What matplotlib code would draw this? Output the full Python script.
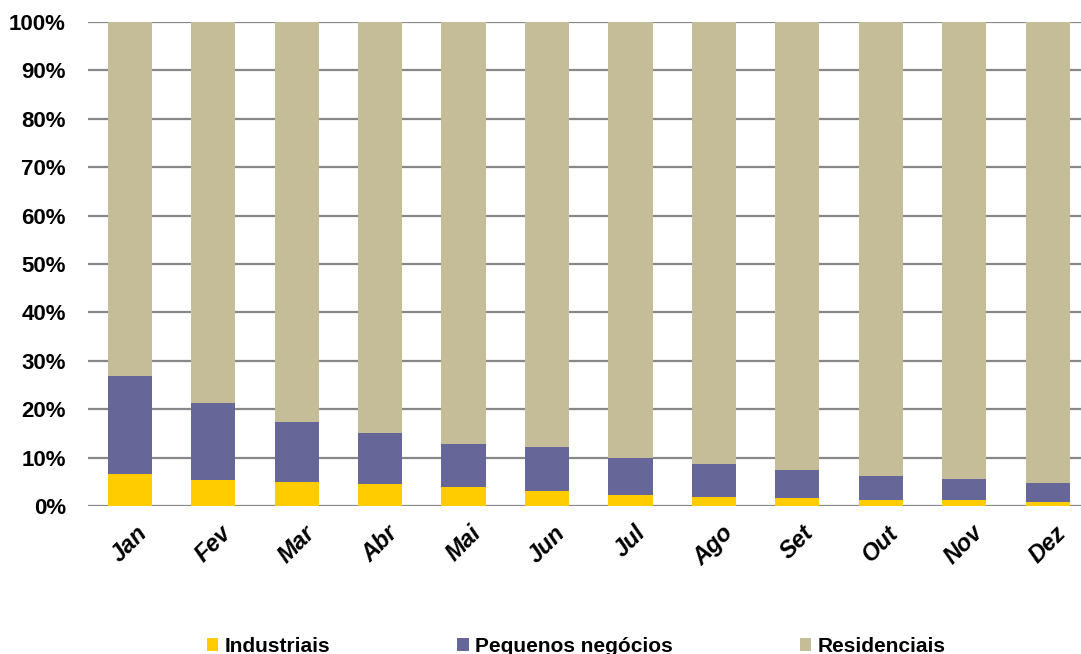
import matplotlib
matplotlib.use("Agg")
import matplotlib.pyplot as plt
from matplotlib.patches import Patch
import numpy as np

plt.rcParams['font.family'] = ['Liberation Sans', 'DejaVu Sans']

months = ["Jan", "Fev", "Mar", "Abr", "Mai", "Jun", "Jul", "Ago", "Set", "Out", "Nov", "Dez"]
industriais = [6.7, 5.3, 4.9, 4.6, 3.9, 3.1, 2.3, 1.9, 1.6, 1.2, 1.2, 0.8]
pequenos = [20.1, 16.0, 12.4, 10.5, 9.0, 9.0, 7.6, 6.7, 5.8, 5.1, 4.4, 4.0]
residenciais = [100 - a - b for a, b in zip(industriais, pequenos)]
yticks = [0, 10, 20, 30, 40, 50, 60, 70, 80, 90, 100]
ytick_labels = [f"{v}%" for v in yticks]

c_ind = "#FFCC00"
c_peq = "#666699"
c_res = "#C4BD97"

fig = plt.figure(figsize=(10.81, 6.54), dpi=100)
ax = fig.add_axes([88 / 1081, 1 - 506 / 654, (1081 - 88) / 1081, (506 - 22) / 654])

x = np.arange(len(months))
w = 0.53
ind = np.array(industriais)
peq = np.array(pequenos)
res = np.array(residenciais)
ax.bar(x, ind, w, color=c_ind, edgecolor="none", zorder=3)
ax.bar(x, peq, w, bottom=ind, color=c_peq, edgecolor="none", zorder=3)
ax.bar(x, res, w, bottom=ind + peq, color=c_res, edgecolor="none", zorder=3)

ax.set_xlim(-0.5, 11.4)
ax.set_ylim(0, 100)
ax.set_yticks(yticks)
ax.set_yticklabels(ytick_labels, fontsize=16, fontweight="bold")
ax.tick_params(axis="y", length=0, pad=16)
ax.set_xticks(x)
ax.set_xticklabels(months, fontsize=17, fontweight="bold", fontstyle="italic",
                   rotation=45, ha="center", va="top")
ax.tick_params(axis="x", length=0, pad=11)
for s in ax.spines.values():
    s.set_visible(False)
ax.yaxis.grid(True, color="#888888", linewidth=1.6, zorder=0)
ax.set_axisbelow(True)

handles = [Patch(facecolor=c_ind, edgecolor="none"),
           Patch(facecolor=c_peq, edgecolor="none"),
           Patch(facecolor=c_res, edgecolor="none")]
fig.legend(handles, ["Industriais", "Pequenos negócios", "Residenciais"],
           loc="center", bbox_to_anchor=(0.533, 0.012), ncol=3, frameon=False,
           prop={"weight": "bold", "size": 15}, handlelength=0.55, handleheight=0.55,
           handletextpad=0.3, columnspacing=6.1)

fig.savefig("out.png", dpi=100)
